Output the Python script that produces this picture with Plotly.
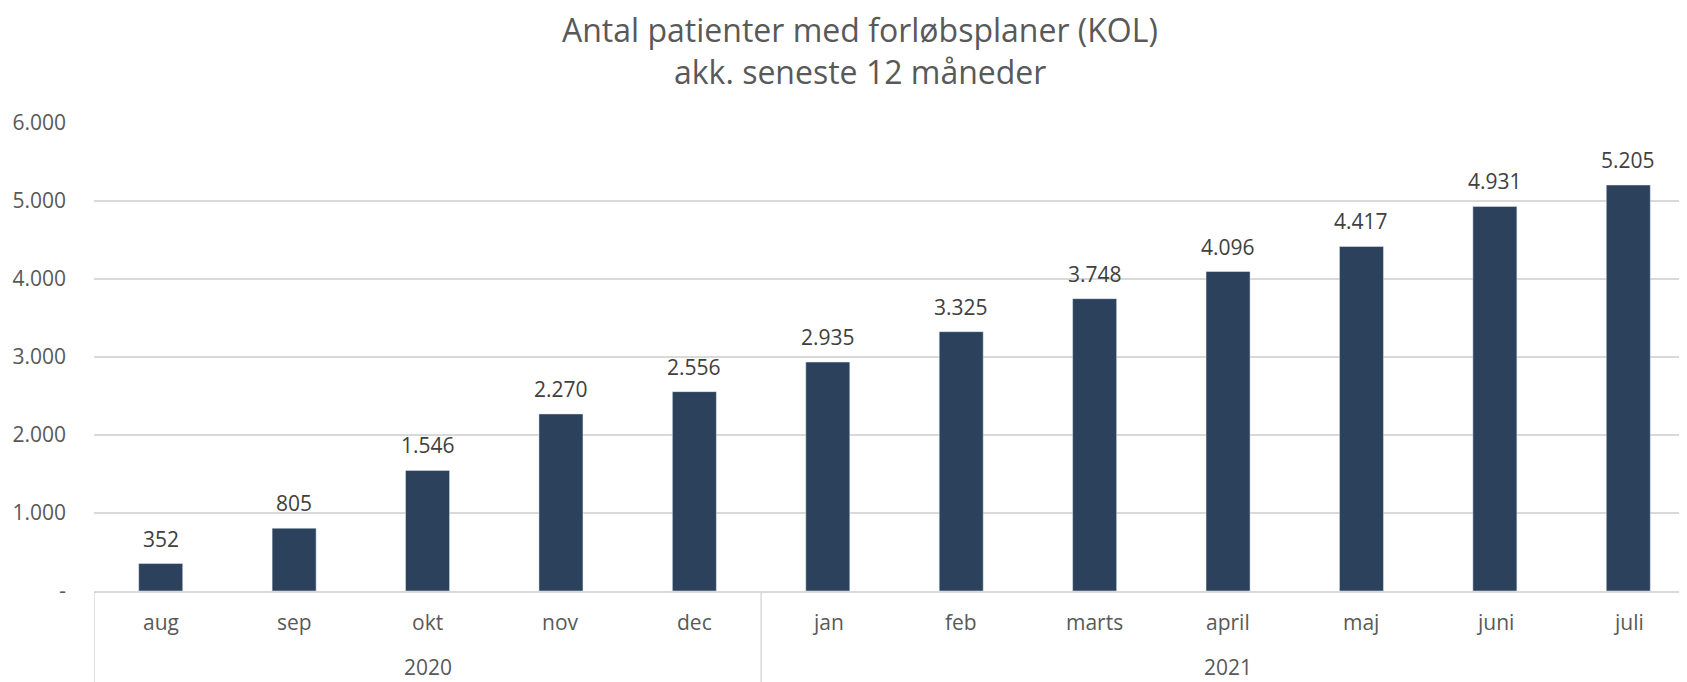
import plotly.graph_objects as go

months = ["aug", "sep", "okt", "nov", "dec", "jan", "feb", "marts", "april", "maj", "juni", "juli"]
years = ["2020", "2021"]
year_counts = [5, 7]
values = [352, 805, 1546, 2270, 2556, 2935, 3325, 3748, 4096, 4417, 4931, 5205]
y_tickvals = [0, 1000, 2000, 3000, 4000, 5000, 6000]
y_ticktext = ["-", "1.000", "2.000", "3.000", "4.000", "5.000", "6.000"]
title_lines = ["Antal patienter med forløbsplaner (KOL)", "akk. seneste 12 måneder"]

def fmt(v):
    return f"{v:,}".replace(",", ".")

OFF = 8  # page body margin
W, H = 1687, 682
L = 94 - OFF
T, B = 123 - OFF, 591 - OFF
ph = B - T
pw = W - L
def py(pix):
    return (B - (pix - OFF)) / ph
def px(pix):
    return ((pix - OFF) - L) / pw

GRID = "#D9D9D9"
TXT = "#595959"
FONT = "Open Sans"

fig = go.Figure()
fig.add_trace(go.Bar(
    x=months,
    y=values,
    marker=dict(color="#2C415C"),
    width=0.33,
))

annotations = []
# data labels
for m, v in zip(months, values):
    annotations.append(dict(text=fmt(v), xref="x", yref="y", x=m, y=v,
                            xanchor="center", yanchor="bottom", yshift=9, showarrow=False,
                            font=dict(family=FONT, size=21, color="#404040")))
# title
for line, pix in zip(title_lines, [29, 72]):
    annotations.append(dict(text=line, xref="paper", yref="paper", x=px(860), y=py(pix),
                            xanchor="center", yanchor="middle", showarrow=False,
                            font=dict(family=FONT, size=32, color=TXT)))
# month labels
for m in months:
    annotations.append(dict(text=m, xref="x", yref="paper", x=m, y=py(622),
                            xanchor="center", yanchor="middle", showarrow=False,
                            font=dict(family=FONT, size=21, color=TXT)))
# year labels and dividers
shapes = []
start = 0
bounds = [-0.5]
for yr, n in zip(years, year_counts):
    center = start + (n - 1) / 2
    annotations.append(dict(text=yr, xref="x", yref="paper", x=center, y=py(667),
                            xanchor="center", yanchor="middle", showarrow=False,
                            font=dict(family=FONT, size=21, color=TXT)))
    start += n
    bounds.append(start - 0.5)
for bx in bounds:
    shapes.append(dict(type="line", xref="x", yref="paper", x0=bx, x1=bx,
                       y0=0, y1=py(H + 20), line=dict(color=GRID, width=1.5)))

fig.update_layout(
    width=W, height=H,
    paper_bgcolor="white", plot_bgcolor="white",
    margin=dict(l=L, r=0, t=T, b=H - B),
    showlegend=False,
    bargap=0.67,
    annotations=annotations,
    shapes=shapes,
)
fig.update_xaxes(
    type="category",
    showticklabels=False,
    showline=True, linecolor=GRID, linewidth=1.5,
    ticks="", automargin=False,
    range=[-0.5, 11.5],
)
fig.update_yaxes(
    range=[0, 6000],
    tickvals=y_tickvals, ticktext=y_ticktext,
    showgrid=True, gridcolor=GRID, gridwidth=1.5,
    zeroline=False, automargin=False,
    tickfont=dict(family=FONT, size=21, color=TXT),
    ticklabelstandoff=27,
)

fig.write_html("out.html")
